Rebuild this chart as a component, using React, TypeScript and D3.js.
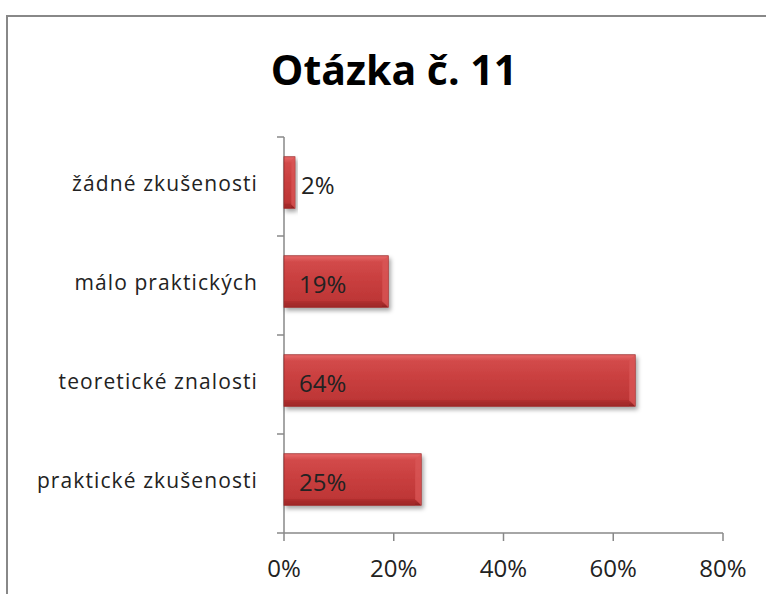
import * as d3 from 'd3';
import React, { useEffect, useRef } from 'react';

const categories = ['žádné zkušenosti', 'málo praktických', 'teoretické znalosti', 'praktické zkušenosti'];
const values = [2, 19, 64, 25];
const xTicks = [0, 20, 40, 60, 80];
const title = 'Otázka č. 11';

const W = 766;
const H = 594;
const margin = { top: 137, right: 43, bottom: 61, left: 284 };

const App = () => {
    const ref = useRef(null);

    useEffect(() => {
        const root = d3.select(ref.current);
        root.selectAll('*').remove();
        const svg = root.append('svg')
            .attr('width', W)
            .attr('height', H)
            .style('position', 'absolute')
            .style('left', '0px')
            .style('top', '0px')
            .style('background', '#fff');

        const defs = svg.append('defs');
        const grad = defs.append('linearGradient')
            .attr('id', 'barGrad')
            .attr('x1', 0).attr('y1', 0).attr('x2', 0).attr('y2', 1);
        grad.append('stop').attr('offset', '0%').attr('stop-color', '#e86a6a');
        grad.append('stop').attr('offset', '12%').attr('stop-color', '#d24a4a');
        grad.append('stop').attr('offset', '50%').attr('stop-color', '#c83e3e');
        grad.append('stop').attr('offset', '88%').attr('stop-color', '#bd3636');
        grad.append('stop').attr('offset', '100%').attr('stop-color', '#8c2020');

        const shadow = defs.append('filter').attr('id', 'shadow')
            .attr('x', '-10%').attr('y', '-20%').attr('width', '130%').attr('height', '160%');
        shadow.append('feDropShadow')
            .attr('dx', 2).attr('dy', 3).attr('stdDeviation', 2)
            .attr('flood-color', '#000').attr('flood-opacity', 0.35);

        // outer frame
        svg.append('rect')
            .attr('x', 7).attr('y', 16)
            .attr('width', 820).attr('height', 700)
            .attr('fill', 'none')
            .attr('stroke', '#888')
            .attr('stroke-width', 2);

        svg.append('text')
            .attr('x', 394)
            .attr('y', 85)
            .attr('text-anchor', 'middle')
            .style('font-family', 'Open Sans, sans-serif')
            .style('font-weight', 'bold')
            .style('font-size', '41px')
            .style('fill', '#000')
            .text(title);

        const g = svg.append('g').attr('transform', `translate(${margin.left},${margin.top})`);
        const iw = W - margin.left - margin.right;
        const ih = H - margin.top - margin.bottom;

        const x = d3.scaleLinear().domain([0, 80]).range([0, iw]);
        const y = d3.scaleBand().domain(categories).range([0, ih]).paddingInner(0.48).paddingOuter(0.24);

        // axes
        const axisColor = '#888';
        g.append('line').attr('x1', 0).attr('x2', 0).attr('y1', 0).attr('y2', ih)
            .attr('stroke', axisColor).attr('stroke-width', 1.5);
        g.append('line').attr('x1', 0).attr('x2', iw).attr('y1', ih).attr('y2', ih)
            .attr('stroke', axisColor).attr('stroke-width', 1.5);

        const step = ih / categories.length;
        d3.range(categories.length + 1).forEach(i => {
            g.append('line')
                .attr('x1', -7).attr('x2', 0)
                .attr('y1', i * step).attr('y2', i * step)
                .attr('stroke', axisColor).attr('stroke-width', 1.5);
        });

        xTicks.forEach(t => {
            g.append('line')
                .attr('x1', x(t)).attr('x2', x(t))
                .attr('y1', ih).attr('y2', ih + 8)
                .attr('stroke', axisColor).attr('stroke-width', 1.5);
            g.append('text')
                .attr('x', x(t))
                .attr('y', ih + 44)
                .attr('text-anchor', 'middle')
                .style('font-family', 'Open Sans, sans-serif')
                .style('font-size', '24px')
                .style('fill', '#222')
                .text(`${t}%`);
        });

        categories.forEach((c, i) => {
            const by = (y(c) ?? 0) - 4;
            const bh = y.bandwidth();
            const bw = x(values[i]);
            const bar = g.append('g').attr('filter', 'url(#shadow)');
            bar.append('rect')
                .attr('x', 0).attr('y', by)
                .attr('width', bw).attr('height', bh)
                .attr('fill', 'url(#barGrad)')
                .attr('stroke', '#9a2a2a')
                .attr('stroke-width', 0.8);
            // bevel on right edge
            const bev = Math.min(6, bw / 3);
            bar.append('path')
                .attr('d', `M${bw - bev},${by + bev} L${bw},${by} L${bw},${by + bh} L${bw - bev},${by + bh - bev} Z`)
                .attr('fill', '#d85555')
                .attr('opacity', 0.8);
            bar.append('rect')
                .attr('x', 0).attr('y', by + bh - bev)
                .attr('width', Math.max(0, bw - bev)).attr('height', bev)
                .attr('fill', '#a92c2c').attr('opacity', 0.6);

            g.append('text')
                .attr('x', values[i] < 10 ? bw + 6 : 15)
                .attr('y', by + bh / 2 + 11)
                .style('font-family', 'Open Sans, sans-serif')
                .style('font-size', '24px')
                .style('fill', '#222')
                .text(`${values[i]}%`);

            g.append('text')
                .attr('x', -26)
                .attr('y', (y(c) ?? 0) + bh / 2 + 4)
                .attr('text-anchor', 'end')
                .style('font-family', 'Open Sans, sans-serif')
                .style('font-size', '21px')
                .style('letter-spacing', '1.1px')
                .style('fill', '#222')
                .text(c);
        });
    }, []);

    return <div ref={ref} />;
};

export default App;
